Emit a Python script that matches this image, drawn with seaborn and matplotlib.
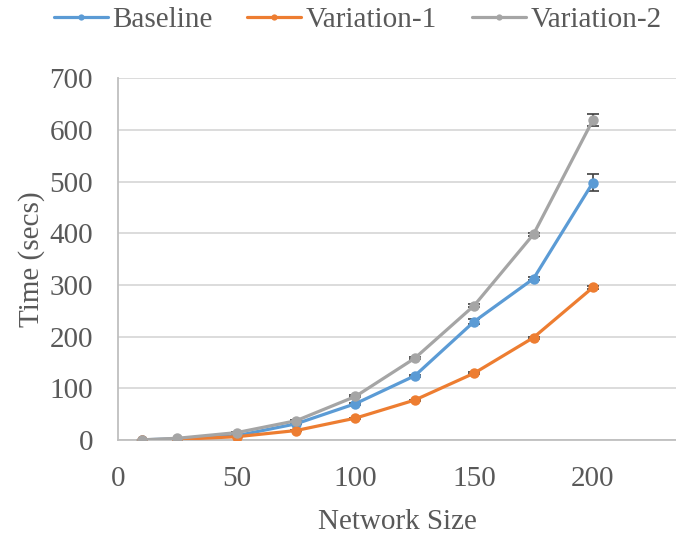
import matplotlib
matplotlib.use("Agg")
import matplotlib.pyplot as plt
import seaborn as sns
import pandas as pd

# Data
network_size = [10, 25, 50, 75, 100, 125, 150, 175, 200]
baseline = [0, 2, 8, 31, 70, 124, 229, 312, 498]
variation_1 = [0, 1, 6, 18, 42, 77, 129, 198, 295]
variation_2 = [0, 3, 14, 37, 84, 158, 260, 398, 619]
err_baseline = [0, 0, 1, 1, 2, 2, 5, 3, 17]
err_variation_1 = [0, 0, 0, 1, 1, 1, 2, 2, 3]
err_variation_2 = [0, 0, 1, 1, 2, 2, 3, 3, 11]
series_names = ["Baseline", "Variation-1", "Variation-2"]
colors = ["#5B9BD5", "#ED7D31", "#A5A5A5"]

df = pd.DataFrame({
    "Network Size": network_size * 3,
    "Time": baseline + variation_1 + variation_2,
    "err": err_baseline + err_variation_1 + err_variation_2,
    "Series": [s for s in series_names for _ in network_size],
})

sns.set_style("white")
plt.rcParams['font.family'] = ['Liberation Serif', 'DejaVu Serif']
text_color = "#595959"
fs = 21

fig = plt.figure(figsize=(6.76, 5.43), dpi=100)
ax = fig.add_axes([0.1746, 0.19, 0.8254, 0.666])

# error bars first so lines sit on top
for name, c in zip(series_names, colors):
    d = df[df["Series"] == name]
    ax.errorbar(d["Network Size"], d["Time"], yerr=d["err"], fmt="none",
                ecolor="#404040", elinewidth=1.2, capsize=4.5, capthick=1.2, zorder=2)

sns.lineplot(data=df, x="Network Size", y="Time", hue="Series", palette=colors,
             marker="o", markersize=7.5, markeredgewidth=0, linewidth=2.3,
             ax=ax, zorder=3)

ax.set_xlim(0, 235)
ax.set_ylim(0, 700)
ax.set_xticks([0, 50, 100, 150, 200])
ax.set_yticks(range(0, 701, 100))
ax.grid(axis="y", color="#D9D9D9", linewidth=1.3)
ax.set_axisbelow(True)
for side in ["top", "right"]:
    ax.spines[side].set_visible(False)
for side in ["left", "bottom"]:
    ax.spines[side].set_color("#BFBFBF")
    ax.spines[side].set_linewidth(1.3)

ax.tick_params(axis="both", labelsize=fs, colors=text_color, length=0)
ax.tick_params(axis="x", pad=19)
ax.tick_params(axis="y", pad=18)
ax.set_xlabel("Network Size", fontsize=fs, color=text_color, labelpad=12)
ax.set_ylabel("Time (secs)", fontsize=fs, color=text_color, labelpad=3)

handles, labels = ax.get_legend_handles_labels()
ax.legend(handles, labels, loc="center", bbox_to_anchor=(0.529, 0.963),
          bbox_transform=fig.transFigure, ncol=3, frameon=False, fontsize=fs,
          labelcolor=text_color, handlelength=1.85, handletextpad=0.15,
          columnspacing=1.2, markerscale=0.6)

plt.savefig("out.png", dpi=100)
